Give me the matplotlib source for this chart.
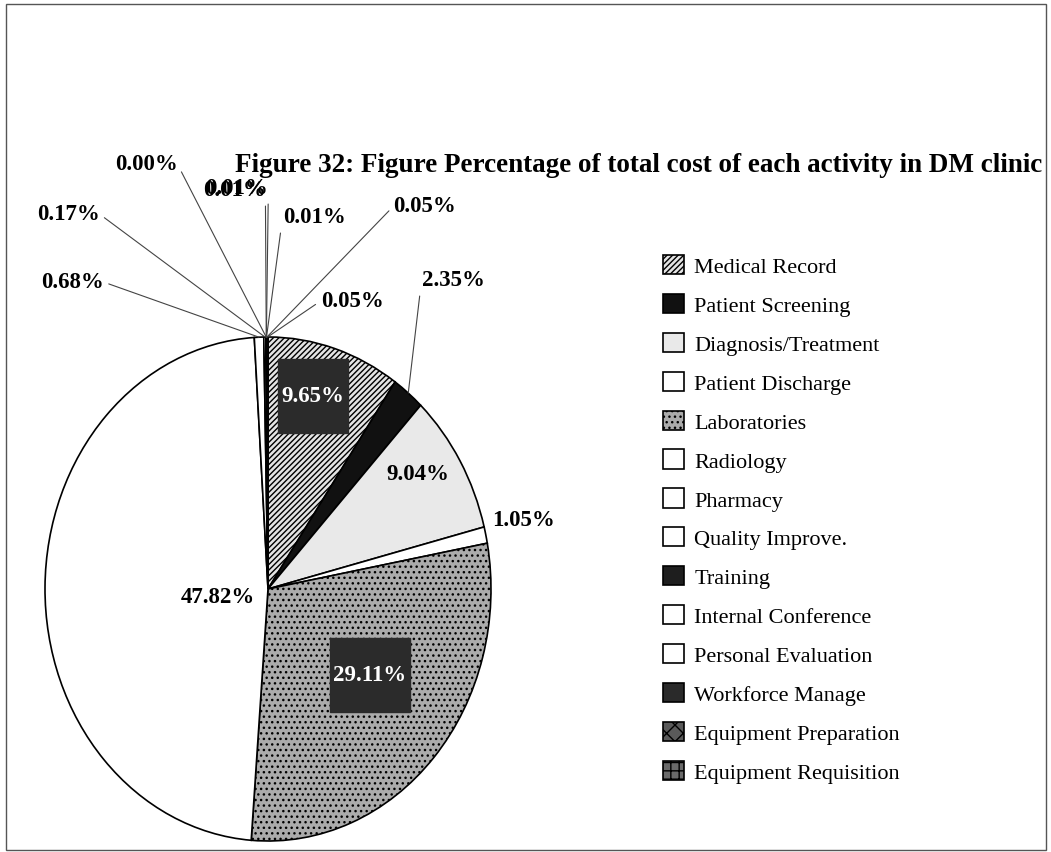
import matplotlib
matplotlib.use('Agg')
import matplotlib.pyplot as plt
from matplotlib.patches import Rectangle
import numpy as np

# Share of total cost per activity (%), clockwise from 12 o'clock
activities = ['Medical Record', 'Patient Screening', 'Diagnosis/Treatment',
              'Patient Discharge', 'Laboratories', 'Radiology', 'Pharmacy',
              'Quality Improve.', 'Training', 'Internal Conference',
              'Personal Evaluation', 'Workforce Manage', 'Equipment Preparation',
              'Equipment Requisition']
shares = [9.65, 2.35, 9.04, 1.05, 29.11, 47.82, 0.68, 0.17, 0.00, 0.01,
          0.01, 0.01, 0.05, 0.05]
title = "Figure 32: Figure Percentage of total cost of each activity in DM clinic"

# fill styles (scanned b/w print look)
faces = ['#e4e4e4', '#111111', '#e9e9e9', 'white', '#ababab', 'white', 'white',
         'white', '#1e1e1e', 'white', 'white', '#2a2a2a', '#5a5a5a', '#6a6a6a']
hatches = ['//////', None, None, None, '...', None, None,
           None, None, None, None, None, 'xx', '++']

W, H = 1051, 853
SERIF = 'Liberation Serif'
LBL = 16.5

# label centres in picture pixels (x from left, y from top), leader flag
label_pos = {
    0: (313, 397, False), 1: (453, 281, True), 2: (418, 475, False),
    3: (524, 520, False), 4: (370, 676, False), 5: (218, 598, False),
    6: (72, 283, True), 7: (68, 215, True), 8: (146, 165, True),
    9: (234, 191, True), 10: (237, 189, True), 11: (314, 218, True),
    12: (425, 207, True), 13: (352, 302, True),
}
boxed = {0, 4}

fig = plt.figure(figsize=(W / 100, H / 100), dpi=100)
fig.patch.set_facecolor('white')

# pie is an ellipse: centre (268, 590), rx 223, ry 252 px
cx, cy, rx, ry = 268, 590, 223, 252
ax = fig.add_axes([(cx - rx) / W, (H - cy - ry) / H, 2 * rx / W, 2 * ry / H])
wedges, _ = ax.pie(shares, startangle=90, counterclock=False,
                   colors=faces,
                   wedgeprops=dict(edgecolor='black', linewidth=1.2))
for w, h in zip(wedges, hatches):
    if h:
        w.set_hatch(h)
ax.set_aspect('auto')
ax.set_xlim(-1, 1)
ax.set_ylim(-1, 1)
ax.axis('off')

for i, (w, v) in enumerate(zip(wedges, shares)):
    px, py, leader = label_pos[i]
    txt = f"{v:.2f}%"
    if leader:
        th = np.deg2rad((w.theta1 + w.theta2) / 2)
        rel = (1, 0.5) if px < cx else (0, 0.5)
        ax.annotate(txt, xy=(np.cos(th), np.sin(th)), xycoords='data',
                    xytext=(px, H - py), textcoords='figure pixels',
                    ha='center', va='center',
                    fontsize=LBL, fontweight='bold', family=SERIF,
                    annotation_clip=False,
                    arrowprops=dict(arrowstyle='-', color='#444444', lw=0.8,
                                    shrinkA=2, shrinkB=0, relpos=rel))
    elif i in boxed:
        fig.text(px / W, (H - py) / H, '\n' + txt + '\n', ha='center',
                 va='center', fontsize=LBL, fontweight='bold', family=SERIF,
                 color='white', linespacing=1.1,
                 bbox=dict(boxstyle='square,pad=0.15', facecolor='#2b2b2b',
                           edgecolor='#2b2b2b'))
    else:
        fig.text(px / W, (H - py) / H, txt, ha='center', va='center',
                 fontsize=LBL, fontweight='bold', family=SERIF)

fig.legend(wedges, activities, loc='upper left',
           bbox_to_anchor=(663 / W, 1 - 256 / H), frameon=False,
           prop={'family': SERIF, 'size': 16}, handlelength=0.95,
           handleheight=0.95, handletextpad=0.45, labelspacing=0.75,
           borderaxespad=0, borderpad=0)

fig.text(235 / W, 1 - 165 / H, title, ha='left', va='center', fontsize=19.5,
         fontweight='bold', family=SERIF)

# outer frame of the scanned page
fig.add_artist(Rectangle((6 / W, 2 / H), 1040 / W, 846 / H,
                         transform=fig.transFigure, fill=False,
                         edgecolor='#555555', linewidth=1.0))

fig.savefig('out.png', dpi=100)
